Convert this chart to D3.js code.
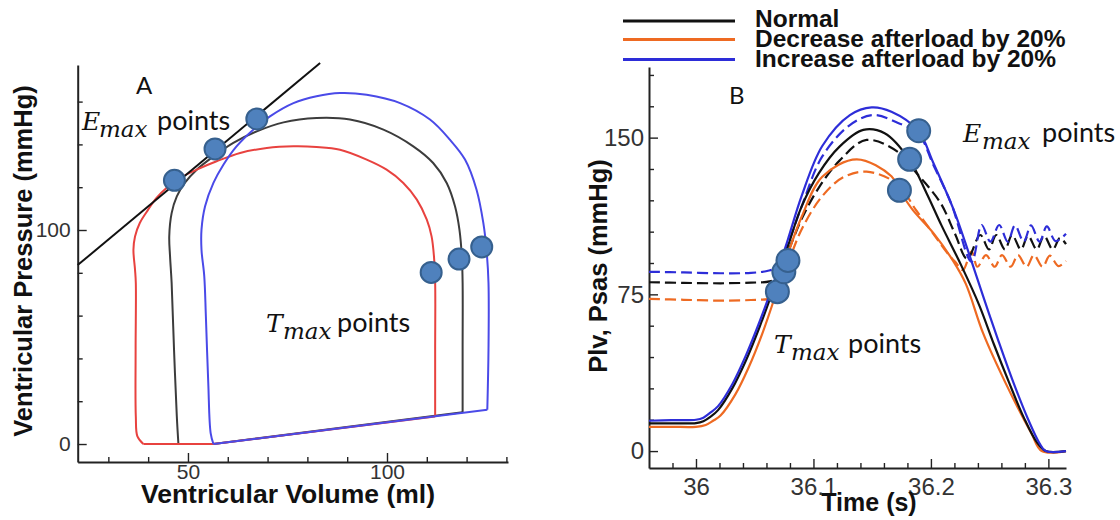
<!DOCTYPE html>
<html>
<head>
<meta charset="utf-8">
<script src="https://cdn.jsdelivr.net/npm/d3@7/dist/d3.min.js"></script>
<style>
  html,body{margin:0;padding:0;background:#fff;}
  svg{display:block;}
  text{font-family:"Liberation Sans",Arial,sans-serif;}
</style>
</head>
<body>
<svg id="chart" width="1120" height="520"></svg>
<script>
// ================= Panel A : pressure-volume loops =================
const redArcV = [38.8, 37.3, 36.9, 36.85, 36.9, 36.7, 36.3, 36.7, 37.9, 40, 42.1, 44.6, 48, 52.2, 57.2, 63.1, 69.8, 76.5, 82.3, 88.2, 94.9, 99.9, 104.1, 107.5, 110, 111.2, 111.8, 112.1, 112.1, 112.1];
const redArcP = [0, 3.6, 12.9, 44.1, 75.2, 81.5, 90.8, 97, 103.3, 109.5, 115, 119.6, 124.3, 128.2, 132.1, 136, 138.3, 139.1, 138.8, 137.5, 132.9, 128.2, 122, 114.2, 104.8, 97, 87.7, 75.2, 44.1, 12.9];
const blackArcV = [47.6, 47.2, 46.5, 45.9, 45.5, 45.3, 45.9, 47.2, 49.2, 52.2, 56.4, 61.4, 67.3, 74, 82.3, 90.7, 99.1, 106.6, 111.6, 115, 117.1, 118.2, 118.8, 119, 119, 119];
const blackArcP = [0, 12.9, 44.1, 75.2, 87.7, 97, 107.9, 115.7, 122, 128.2, 134.4, 140.7, 146.1, 150.3, 152.3, 151.6, 146.9, 139.1, 131.3, 122, 111, 100.2, 87.7, 75.2, 44.1, 14.8];
const blueArcV = [56.4, 55.7, 55.1, 54.5, 54.1, 53.4, 53.4, 54.3, 56.4, 58.9, 62.2, 66.4, 70.6, 76.5, 82.3, 88.2, 94.9, 103.3, 110.8, 115.8, 119.6, 122.5, 124.2, 125, 125.5, 125.5, 125.2];
const blueArcP = [0, 5.1, 28.5, 59.7, 78.3, 90.8, 100.2, 111.1, 122, 130.5, 139.1, 146.9, 153.1, 159.3, 162.5, 164, 163.2, 159.3, 151.6, 142.2, 132.9, 118.8, 103.3, 90.8, 75.2, 44.1, 16];
// filling phase: straight line back to this corner, then to the loop start
const fillCornerV = [56.4];
const fillCornerP = [0];
// ESPVR (Emax) line
const espvrV = [22.3, 83.2];
const espvrP = [83.6, 178];
// points
const emaxAV = [46.6, 56.8, 67.3];
const emaxAP = [123.2, 137.9, 151.9];
const tmaxAV = [111.1, 118.1, 123.8];
const tmaxAP = [80.2, 86.4, 92.1];
// axis ticks
const aXMajor = [50, 100];
const aXMinor = [30, 40, 60, 70, 80, 90, 110, 120, 130];
const aYMajor = [0, 100];
const aYMinor = [20, 40, 60, 80, 120, 140, 160];

// ================= Panel B : pressure vs time =================
const normPlvT = [35.96, 35.9791, 36.0, 36.0063, 36.0125, 36.0188, 36.0309, 36.0427, 36.0542, 36.0646, 36.0781, 36.0899, 36.1045, 36.1222, 36.1424, 36.1606, 36.1815, 36.1963, 36.2090, 36.2257, 36.2410, 36.2537, 36.2664, 36.2791, 36.2904, 36.2977, 36.315];
const normPlvP = [13.3, 13.3, 13.4, 14.3, 16.5, 19.6, 30, 43.6, 59.5, 75.5, 97.8, 117, 132.9, 145.7, 153.7, 152.1, 139.6, 123.4, 108, 89, 70, 51, 33, 16, 4, 0, 0];
const incPlvT = [35.96, 35.9791, 36.0, 36.0063, 36.0125, 36.0188, 36.0309, 36.0427, 36.0542, 36.0646, 36.0781, 36.0899, 36.1075, 36.1310, 36.1495, 36.1664, 36.1892, 36.2020, 36.2190, 36.2321, 36.2445, 36.2573, 36.2701, 36.2829, 36.2922, 36.2977, 36.315];
const incPlvP = [14.5, 14.8, 15, 16, 18.5, 21.5, 32, 46, 62, 78, 101, 122, 146, 160.8, 164.5, 162.4, 153.3, 138, 116, 95, 74, 53, 33, 15, 4, 0, 0];
const decPlvT = [35.96, 35.9791, 36.0, 36.0083, 36.0146, 36.0209, 36.0334, 36.0448, 36.0563, 36.0667, 36.0781, 36.0899, 36.1075, 36.1368, 36.1664, 36.1732, 36.1845, 36.2023, 36.2189, 36.2297, 36.2445, 36.2637, 36.2855, 36.2944, 36.315];
const decPlvP = [11.6, 11.6, 11.6, 12.5, 14.5, 17, 27, 40, 56, 73, 94, 112, 131.3, 139.6, 131.5, 124.8, 115.4, 104.2, 91, 80, 56.3, 32.4, 8.5, 0, 0];

const normPsasT = [35.96, 35.9896, 36.0209, 36.0469, 36.0626, 36.0688, 36.0781, 36.0899, 36.1045, 36.1222, 36.1452, 36.1736, 36.1877, 36.1986, 36.2090, 36.2205, 36.2309, 36.2420, 36.2494, 36.2556, 36.2630, 36.2691, 36.2766, 36.2827, 36.2901, 36.2963, 36.3037, 36.3099, 36.315];
const normPsasP = [80.8, 80.5, 80.3, 80.6, 81.2, 83, 95, 111, 126, 139, 148.9, 142.5, 133, 126, 118, 104, 92, 103.4, 96.5, 103.4, 96.5, 103.4, 96.5, 103, 96.5, 103, 96.5, 102, 99];
const incPsasT = [35.96, 35.9896, 36.0209, 36.0469, 36.0605, 36.0688, 36.0781, 36.0899, 36.1075, 36.1310, 36.1510, 36.1720, 36.1892, 36.2020, 36.2176, 36.2346, 36.2432, 36.2506, 36.2581, 36.2654, 36.2716, 36.2790, 36.2852, 36.2925, 36.2987, 36.3061, 36.315];
const incPsasP = [85.8, 85.5, 85.1, 85.3, 86.2, 88, 99, 117, 141, 156, 160.8, 157, 152, 137, 118, 90.6, 108.2, 100.2, 108.2, 100.2, 108, 100.2, 108, 100.2, 107.5, 100.5, 104];
const decPsasT = [35.96, 35.9896, 36.0209, 36.0469, 36.0646, 36.0709, 36.0781, 36.0899, 36.1075, 36.1253, 36.1452, 36.1710, 36.1877, 36.2033, 36.2137, 36.2215, 36.2272, 36.2346, 36.2396, 36.2469, 36.2543, 36.2605, 36.2680, 36.2741, 36.2815, 36.2877, 36.2951, 36.3012, 36.3086, 36.315];
const decPsasP = [72.8, 72.4, 72.0, 72.3, 73.2, 76, 89, 106, 122, 131, 133.7, 128, 115, 103, 95, 90, 86.6, 95.4, 88.2, 93.8, 88.2, 93.8, 88.2, 93.8, 88.2, 93.8, 88.2, 93.5, 88.5, 91];

const tmaxBT = [36.0693, 36.0748, 36.0783];
const tmaxBP = [76.3, 85.8, 91.2];
const emaxBT = [36.1732, 36.1819, 36.1896];
const emaxBP = [124.8, 139.6, 153.3];

const bXMajor = [36, 36.1, 36.2, 36.3];
const bXLabels = ["36", "36.1", "36.2", "36.3"];
const bXMinor = [35.98, 36.02, 36.04, 36.06, 36.08, 36.12, 36.14, 36.16, 36.18, 36.22, 36.24, 36.26, 36.28];
const bYMajor = [0, 75, 150];
const bYMinor = [15, 30, 45, 60, 90, 105, 120, 135, 165, 180];

const legendNames = ["Normal", "Decrease afterload by 20%", "Increase afterload by 20%"];
const legendColors = ["#111111", "#ee6a22", "#2d2dd8"];

// ================= drawing =================
const svg = d3.select("#chart");
const zip = (a, b) => a.map((v, i) => [v, b[i]]);

function addAxes(xs, ys, xMajor, xMinor, yMajor, yMinor, xFmt, fs, xPad, yPad) {
  const x0 = xs.range()[0], y0 = ys.range()[0];
  const mk = (gen, scale, vals, size, fmt, pad, tr) => {
    const g = svg.append("g").attr("transform", tr)
      .call(gen(scale).tickValues(vals).tickSize(size).tickSizeOuter(0).tickPadding(pad).tickFormat(fmt));
    g.attr("font-size", fs).attr("font-family", "'Liberation Sans', Arial, sans-serif");
    g.selectAll("text").style("font-size", fs + "px").style("fill", "#333");
    g.selectAll(".tick line").attr("stroke", "#222").attr("stroke-width", 1.4);
    return g;
  };
  const gx1 = mk(d3.axisBottom, xs, xMinor, -5, () => "", 0, `translate(0,${y0})`); gx1.select(".domain").remove();
  const gy1 = mk(d3.axisLeft, ys, yMinor, -5, () => "", 0, `translate(${x0},0)`); gy1.select(".domain").remove();
  const gx = mk(d3.axisBottom, xs, xMajor, -9, xFmt, xPad, `translate(0,${y0})`);
  const gy = mk(d3.axisLeft, ys, yMajor, -9, d3.format("d"), yPad, `translate(${x0},0)`);
  [gx, gy].forEach(g => g.select(".domain").attr("stroke", "#222").attr("stroke-width", 2));
}

// ---------- Panel A ----------
const xA = d3.scaleLinear().domain([22.3, 130.4]).range([77.7, 508]);
const yA = d3.scaleLinear().domain([-8.4, 177.1]).range([462, 65]);
addAxes(xA, yA, aXMajor, aXMinor, aYMajor, aYMinor, d3.format("d"), 21, 2, 7);

const smoothA = d3.line().x(d => xA(d[0])).y(d => yA(d[1])).curve(d3.curveCatmullRom.alpha(0.5));
const linA = d3.line().x(d => xA(d[0])).y(d => yA(d[1]));
const loops = [
  {v: blackArcV, p: blackArcP, c: "#3c3c3c"},
  {v: redArcV, p: redArcP, c: "#e8423f"},
  {v: blueArcV, p: blueArcP, c: "#4a4ae8"}
];
loops.forEach(L => {
  const arc = zip(L.v, L.p);
  const fill = [arc[arc.length - 1], [fillCornerV[0], fillCornerP[0]], arc[0]];
  svg.append("path").attr("d", linA(fill)).attr("fill", "none").attr("stroke", L.c).attr("stroke-width", 2);
  svg.append("path").attr("d", smoothA(arc)).attr("fill", "none").attr("stroke", L.c).attr("stroke-width", 2);
});
svg.append("path").attr("d", linA(zip(espvrV, espvrP))).attr("fill", "none").attr("stroke", "#111").attr("stroke-width", 2);

function dots(xs, ys, tv, pv, r) {
  svg.append("g").selectAll("circle").data(zip(tv, pv)).join("circle")
    .attr("cx", d => xs(d[0])).attr("cy", d => ys(d[1])).attr("r", r)
    .attr("fill", "#4f81bd").attr("stroke", "#36608e").attr("stroke-width", 2);
}
dots(xA, yA, emaxAV, emaxAP, 10.5);
dots(xA, yA, tmaxAV, tmaxAP, 10.5);

// axis titles A
svg.append("text").attr("x", 288).attr("y", 503).attr("text-anchor", "middle")
  .style("font-size", "26.5px").style("font-weight", "bold").style("fill", "#111").text("Ventricular Volume (ml)");
svg.append("text").attr("transform", "translate(32,261) rotate(-90)").attr("text-anchor", "middle")
  .style("font-size", "25.5px").style("font-weight", "bold").style("fill", "#111").text("Ventricular Pressure (mmHg)");

// ---------- Panel B ----------
const xB = d3.scaleLinear().domain([35.96, 36.315]).range([649, 1066]);
const yB = d3.scaleLinear().domain([-8.1, 183.8]).range([468, 67]);
addAxes(xB, yB, bXMajor, bXMinor, bYMajor, bYMinor, (d, i) => bXLabels[i], 24, 10, 5);

const smoothB = d3.line().x(d => xB(d[0])).y(d => yB(d[1])).curve(d3.curveCatmullRom.alpha(0.5));
const seriesB = [
  {t: decPsasT, p: decPsasP, c: legendColors[1], dash: true},
  {t: normPsasT, p: normPsasP, c: legendColors[0], dash: true},
  {t: incPsasT, p: incPsasP, c: legendColors[2], dash: true},
  {t: decPlvT, p: decPlvP, c: legendColors[1], dash: false},
  {t: normPlvT, p: normPlvP, c: legendColors[0], dash: false},
  {t: incPlvT, p: incPlvP, c: legendColors[2], dash: false}
];
seriesB.forEach(s => {
  svg.append("path").attr("d", smoothB(zip(s.t, s.p))).attr("fill", "none")
    .attr("stroke", s.c).attr("stroke-width", 2.2)
    .attr("stroke-dasharray", s.dash ? "11,5" : null);
});
dots(xB, yB, tmaxBT, tmaxBP, 11.5);
dots(xB, yB, emaxBT, emaxBP, 11.5);

svg.append("text").attr("x", 869).attr("y", 511).attr("text-anchor", "middle")
  .style("font-size", "25px").style("font-weight", "bold").style("fill", "#111").text("Time (s)");
svg.append("text").attr("transform", "translate(607,266) rotate(-90)").attr("text-anchor", "middle")
  .style("font-size", "25.5px").style("font-weight", "bold").style("fill", "#111").text("Plv, Psas (mmHg)");

// legend
const legY = [21, 39.5, 59.5];
const legTextY = [26.5, 46.5, 66.5];
legendNames.forEach((n, i) => {
  svg.append("line").attr("x1", 623).attr("x2", 735).attr("y1", legY[i]).attr("y2", legY[i])
    .attr("stroke", legendColors[i]).attr("stroke-width", 2.8);
  svg.append("text").attr("x", 755).attr("y", legTextY[i])
    .style("font-size", "24.5px").style("font-weight", "bold").style("fill", "#111").text(n);
});

// ---------- annotations ----------
function annot(letter, xL, xSub, xPts, base) {
  const t = svg.append("text").attr("y", base).style("fill", "#111");
  t.append("tspan").attr("x", xL).text(letter)
    .style("font-family", "'DejaVu Serif', serif").style("font-style", "italic").style("font-size", "25px");
  t.append("tspan").attr("x", xSub).attr("dy", 7).text("max")
    .style("font-family", "'DejaVu Serif', serif").style("font-style", "italic").style("font-size", "23px");
  t.append("tspan").attr("x", xPts).attr("dy", -7).text("points")
    .style("font-family", "Lato, 'Open Sans', sans-serif").style("font-size", "27px");
}
annot("E", 82, 99, 157, 130);
annot("T", 266, 283, 337, 332);
annot("E", 963, 982, 1042, 142);
annot("T", 774, 791, 848, 353);

svg.append("text").attr("x", 136).attr("y", 94).style("font-family", "Lato, sans-serif").style("font-size", "24px").style("fill", "#111").text("A");
svg.append("text").attr("x", 729).attr("y", 104).style("font-family", "Lato, sans-serif").style("font-size", "24px").style("fill", "#111").text("B");
</script>
</body>
</html>
